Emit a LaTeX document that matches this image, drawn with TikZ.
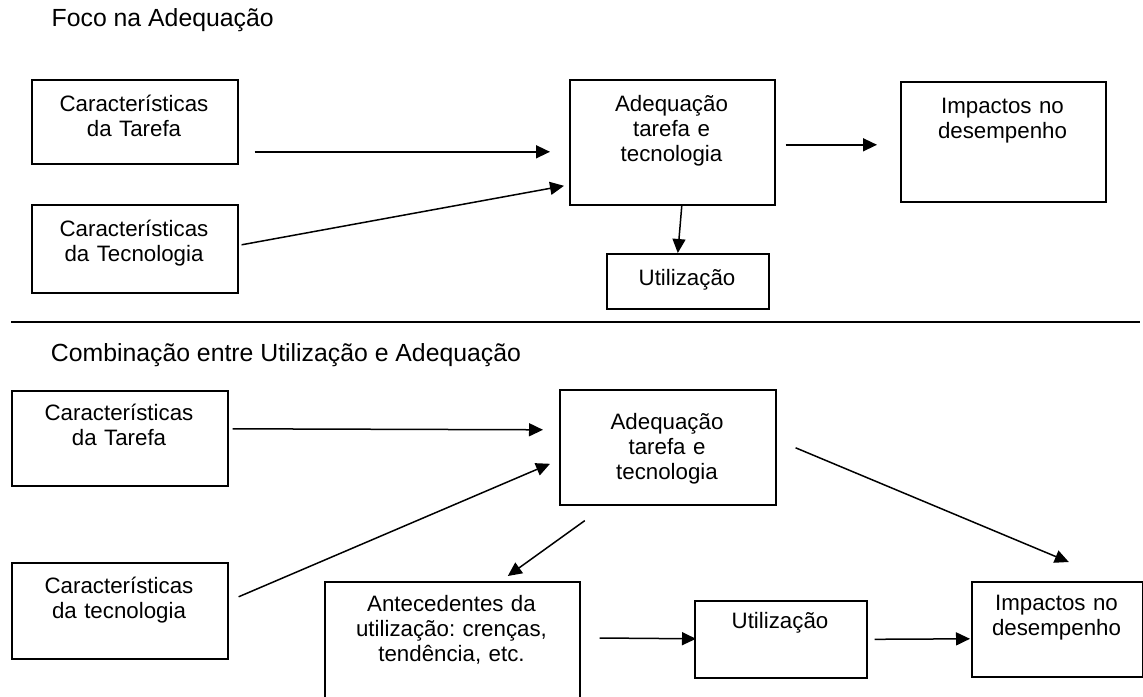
\documentclass[tikz,border=0pt]{standalone}
\usepackage{fontspec}
\setmainfont{Liberation Sans}
\usetikzlibrary{arrows.meta}
\frenchspacing
\begin{document}
\begin{tikzpicture}[x=1pt,y=-1pt,
  cbox/.style={draw, line width=1.6pt, inner sep=0pt, anchor=north west},
  lbl/.style={font=\fontsize{22.3}{25}\selectfont, align=center, text width=260pt, inner sep=0pt, anchor=base},
  ttl/.style={font=\fontsize{24.8}{28}\selectfont, inner sep=0pt, anchor=base west},
  arr/.style={line width=1.5pt, -{Triangle[length=14pt,width=13pt]}},
  sepline/.style={line width=1.8pt}]
\useasboundingbox (0,0) rectangle (1143,696);

% ---------- top section ----------
\node[ttl] (title1) at (51.5,26.7) {Foco na Adequação};

\node[cbox, minimum width=206pt, minimum height=84pt] (T1) at (31,79) {};
\node[cbox, minimum width=206pt, minimum height=88pt] (T2) at (31,204) {};
\node[cbox, minimum width=205pt, minimum height=125pt] (T3) at (569,79) {};
\node[cbox, minimum width=205pt, minimum height=120pt] (T4) at (900,81) {};
\node[cbox, minimum width=162pt, minimum height=55pt] (T5) at (606,253) {};

\node[lbl] (T1t) at (134,111.5) {Características\\da Tarefa};
\node[lbl] (T2t) at (134,236.7) {Características\\da Tecnologia};
\node[lbl] (T3t) at (671.5,111) {Adequação\\tarefa e\\tecnologia};
\node[lbl] (T4t) at (1002.5,113) {Impactos no\\desempenho};
\node[lbl] (T5t) at (687,285) {Utilização};

\draw[arr] ([shift={(16,30)}]T1.east) -- ([shift={(-19,9.5)}]T3.west);
\draw[arr] ([shift={(3,-4)}]T2.east) -- ([shift={(-5,43.5)}]T3.west);
\draw[arr] ([shift={(10,2.5)}]T3.east) -- ([shift={(-23,3)}]T4.west);
\draw[arr] ([shift={(9.5,0)}]T3.south) -- ([shift={(-10,0)}]T5.north);

% separator
\coordinate (sepL) at (11,321.7);
\coordinate (sepR) at (1140,321.7);
\draw[sepline] (sepL) -- (sepR);

% ---------- bottom section ----------
\node[ttl] (title2) at (50.7,361.7) {Combinação entre Utilização e Adequação};

\node[cbox, minimum width=216pt, minimum height=95pt] (B1) at (11,390) {};
\node[cbox, minimum width=216pt, minimum height=96pt] (B2) at (11,562) {};
\node[cbox, minimum width=216pt, minimum height=115pt] (B3) at (559,389) {};
\node[cbox, minimum width=255pt, minimum height=125pt] (B4) at (324,581) {};
\node[cbox, minimum width=172pt, minimum height=77pt] (B5) at (694,600) {};
\node[cbox, minimum width=171pt, minimum height=95pt] (B6) at (971,581) {};

\node[lbl] (B1t) at (119,420.7) {Características\\da Tarefa};
\node[lbl] (B2t) at (119,593) {Características\\da tecnologia};
\node[lbl] (B3t) at (667,429) {Adequação\\tarefa e\\tecnologia};
\node[lbl] (B4t) at (451.5,611.7) {Antecedentes da\\utilização: crenças,\\tendência, etc.};
\node[lbl] (B5t) at (780,628) {Utilização};
\node[lbl] (B6t) at (1056.5,610) {Impactos no\\desempenho};

\draw[arr] ([shift={(4,-9.5)}]B1.east) -- ([shift={(-16,-17.5)}]B3.west);
\draw[arr] ([shift={(10,-14)}]B2.east) -- ([shift={(-9,16.5)}]B3.west);
\draw[arr] ([shift={(-83,15)}]B3.south) -- ([shift={(55.5,-5)}]B4.north);
\draw[arr] ([shift={(19,0.5)}]B3.east) -- ([shift={(11.5,-19)}]B6.north);
\draw[arr] ([shift={(19,57)}]B4.north east) -- ([shift={(2,-0.5)}]B5.west);
\draw[arr] ([shift={(7,0)}]B5.east) -- ([shift={(-1,9.5)}]B6.west);
\end{tikzpicture}
\end{document}
